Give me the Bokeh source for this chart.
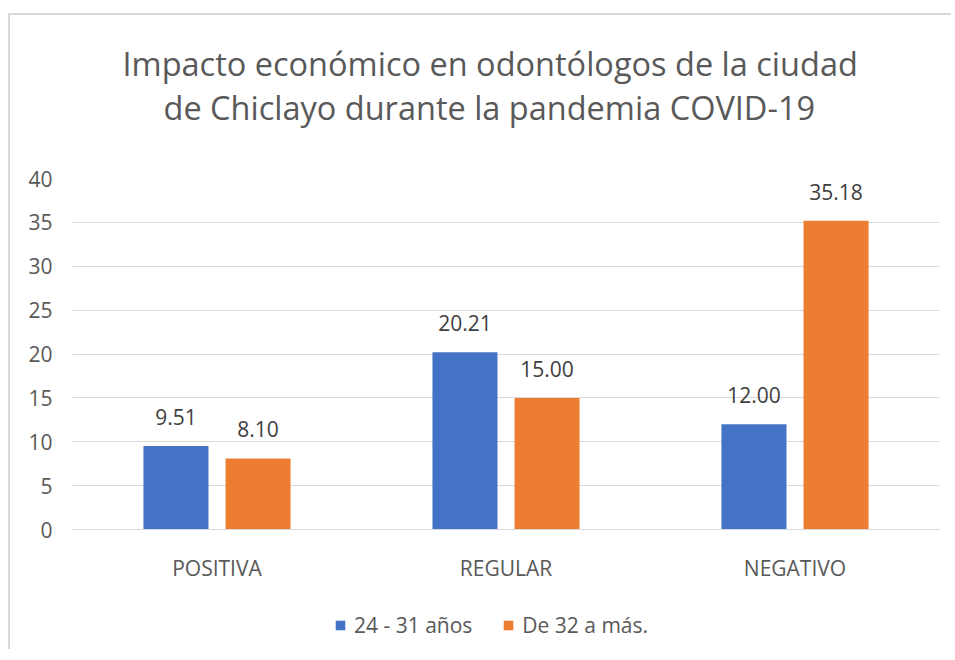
from bokeh.plotting import figure
from bokeh.models import (ColumnDataSource, Range1d, FactorRange, Title, Legend,
                          LegendItem, FixedTicker)
from bokeh.layouts import column
from bokeh.transform import dodge
from bokeh.core.properties import value
from bokeh.embed import file_html
from bokeh.resources import INLINE

categories = ["POSITIVA", "REGULAR", "NEGATIVO"]
series_names = ["24 - 31 años", "De 32 a más."]
young = [9.51, 20.21, 12.00]
older = [8.10, 15.00, 35.18]
y_ticks = [0, 5, 10, 15, 20, 25, 30, 35, 40]
title_lines = ["Impacto económico en odontólogos de la ciudad",
               "de Chiclayo durante la pandemia COVID-19"]

BLUE = "#4472C4"
ORANGE = "#ED7D31"
GRID = "#D9D9D9"
TXT = "#595959"
FONT = "Open Sans"

src = ColumnDataSource(dict(
    cat=categories,
    young=young,
    older=older,
    young_lbl=["%.2f" % v for v in young],
    older_lbl=["%.2f" % v for v in older],
))

p = figure(x_range=FactorRange(*categories, range_padding=0),
           y_range=Range1d(0, 40),
           frame_width=867, frame_height=351,
           output_backend="svg", toolbar_location=None,
           min_border_left=62, min_border_right=12,
           min_border_top=163, min_border_bottom=70)

p.outline_line_color = None
p.background_fill_color = "white"


def make_title(text, offset, standoff):
    t = Title(text=text, align="left", offset=offset, text_font=FONT,
              text_font_size="32.5px", text_font_style="normal",
              text_color=TXT, standoff=0)
    try:
        t.standoff = standoff
    except Exception:
        t.standoff = 0
    return t


# spacer between the frame and the two title lines
spacer = Title(text=" ", text_font=FONT, text_font_size="10px", standoff=34)
t2 = make_title(title_lines[1], 91, -3)
t1 = make_title(title_lines[0], 50, -3)
p.add_layout(spacer, "above")
p.add_layout(t2, "above")
p.add_layout(t1, "above")

w = 0.225
off = 0.142
r1 = p.vbar(x=dodge("cat", -off, range=p.x_range), top="young", width=w,
            source=src, fill_color=BLUE, line_color=None)
r2 = p.vbar(x=dodge("cat", off, range=p.x_range), top="older", width=w,
            source=src, fill_color=ORANGE, line_color=None)

p.text(x=dodge("cat", -off, range=p.x_range), y="young", text="young_lbl",
       source=src, text_align="center", text_baseline="alphabetic",
       y_offset=-29, text_font=value(FONT), text_font_size="21px",
       text_color="#404040")
p.text(x=dodge("cat", off, range=p.x_range), y="older", text="older_lbl",
       source=src, text_align="center", text_baseline="alphabetic",
       y_offset=-29, text_font=value(FONT), text_font_size="21px",
       text_color="#404040")

# Axes
p.yaxis.ticker = FixedTicker(ticks=y_ticks)
p.yaxis.axis_line_color = None
p.yaxis.major_tick_line_color = None
p.yaxis.minor_tick_line_color = None
p.yaxis.major_label_text_font = FONT
p.yaxis.major_label_text_font_size = "21px"
p.yaxis.major_label_text_color = TXT
p.yaxis.major_label_standoff = 14

p.xaxis.axis_line_color = GRID
p.xaxis.axis_line_width = 1
p.xaxis.major_tick_line_color = None
p.xaxis.minor_tick_line_color = None
p.xaxis.major_label_text_font = FONT
p.xaxis.major_label_text_font_size = "21px"
p.xaxis.major_label_text_color = TXT
p.xaxis.major_label_standoff = 18

p.xgrid.grid_line_color = None
p.ygrid.grid_line_color = GRID
p.ygrid.grid_line_width = 1

# Legend strip: a small companion figure holding only the legend.
# Its swatch renderers sit outside the visible range, so only the legend shows.
lg = figure(x_range=Range1d(0, 1), y_range=Range1d(0, 1),
            frame_width=867, frame_height=50,
            output_backend="svg", toolbar_location=None,
            min_border_left=62, min_border_right=12,
            min_border_top=0, min_border_bottom=0)
lg.axis.visible = False
lg.grid.visible = False
lg.outline_line_color = None
d1 = lg.vbar(x=[5], top=[5], bottom=[4], width=0.1, fill_color=BLUE, line_color=None)
d2 = lg.vbar(x=[5], top=[5], bottom=[4], width=0.1, fill_color=ORANGE, line_color=None)

legend = Legend(items=[LegendItem(label=series_names[0], renderers=[d1]),
                       LegendItem(label=series_names[1], renderers=[d2])],
                orientation="horizontal", location=(262, 10),
                glyph_width=12, glyph_height=12, label_standoff=8,
                spacing=30, padding=0, margin=0,
                label_text_font=FONT, label_text_font_size="21px",
                label_text_color=TXT, border_line_color=None,
                background_fill_alpha=0)
lg.add_layout(legend, "center")

layout = column(p, lg, spacing=0)
layout.styles = {"border-left": "2px solid #D9D9D9",
                 "border-top": "2px solid #D9D9D9",
                 "margin-left": "8px", "margin-top": "13px"}

open("out.html", "w").write(file_html(layout, INLINE))
